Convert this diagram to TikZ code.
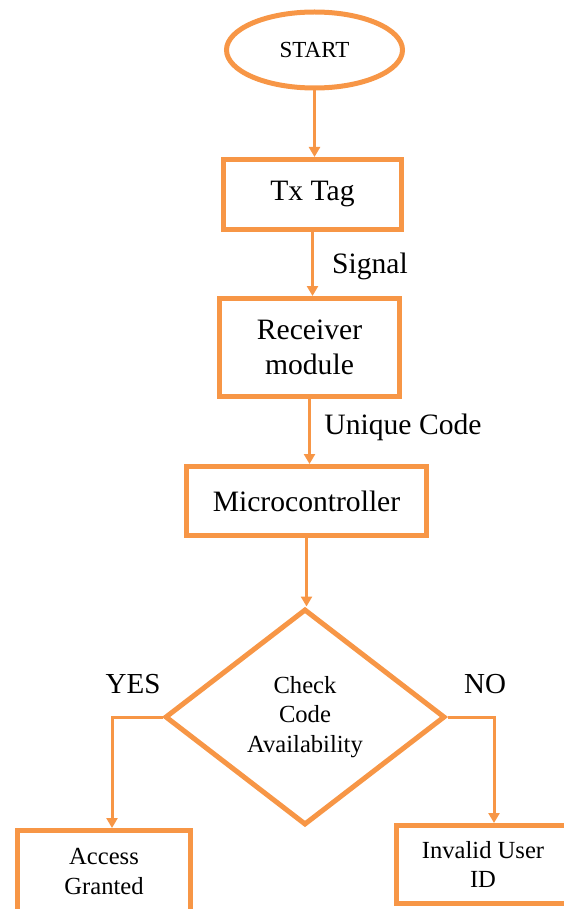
\documentclass[tikz,border=0pt]{standalone}
\usepackage{fontspec}
\setmainfont{Liberation Serif}
\usepackage{xcolor}
\usetikzlibrary{arrows.meta,shapes.geometric}
\definecolor{flowor}{HTML}{F79646}
\newcommand{\bigtxt}{\fontsize{29.6}{35}\selectfont}
\newcommand{\smalltxt}{\fontsize{24.6}{29.5}\selectfont}

\begin{document}
\begin{tikzpicture}[x=1pt, y=-1pt,
    blockbox/.style={draw=flowor, line width=5pt, inner sep=0pt, font=\bigtxt, align=center},
    flowline/.style={draw=flowor, line width=3pt, -{Triangle[length=10pt, width=11pt]}},
    flowlabel/.style={font=\bigtxt, inner sep=0pt}]
    % --- page frame; the two bottom boxes run off the lower edge ---
    \useasboundingbox (0,0) rectangle (564,909);
    \clip (0,0) rectangle (564,909);

    % --- main column ---
    \node[blockbox, ellipse, minimum width=176pt, minimum height=76pt,
          font=\fontsize{23}{27}\selectfont] (start) at (314.5,50) {START};
    \node[blockbox, minimum width=178pt, minimum height=70pt] (txtag) at (312.5,194.5) {Tx Tag};
    \node[blockbox, minimum width=180pt, minimum height=98pt] (recv) at (309.5,347.5) {Receiver\\module};
    \node[blockbox, minimum width=240pt, minimum height=69pt] (micro) at (306.5,501) {Microcontroller};
    \node[blockbox, diamond, minimum width=280pt, minimum height=216pt,
          font=\smalltxt] (check) at (305,717) {Check\\Code\\Availability};

    % --- outcomes ---
    \node[blockbox, minimum width=173pt, minimum height=82pt, font=\smalltxt] (access) at (104,871.5) {Access\\Granted};
    \node[blockbox, minimum width=174pt, minimum height=78pt, font=\smalltxt] (invalid) at (483,864.5) {Invalid User\\ID};

    % --- connectors ---
    \draw[flowline] (start.south) -- (start.south |- txtag.north);
    \draw[flowline] (txtag.south) -- (txtag.south |- recv.north);
    \draw[flowline] (recv.south) -- (recv.south |- micro.north);
    \draw[flowline] (micro.south) -- (micro.south |- check.north);
    \draw[flowline] (check.west) -| ([xshift=8pt]access.north);
    \draw[flowline] (check.east) -| ([xshift=11pt]invalid.north);

    % --- connector labels ---
    \node[flowlabel] (sig) at (370,266) {Signal};
    \node[flowlabel] (ucode) at (403,427) {Unique Code};
    \node[flowlabel, font=\fontsize{29}{34}\selectfont] (yes) at (133,684) {YES};
    \node[flowlabel, font=\fontsize{29}{34}\selectfont] (no) at (485,684) {NO};
\end{tikzpicture}
\end{document}
